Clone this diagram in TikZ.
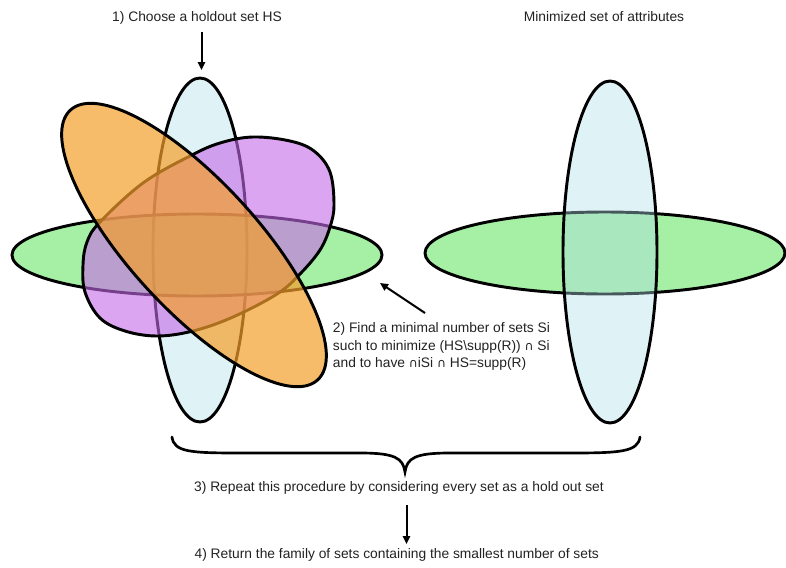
\documentclass[tikz,border=0pt]{standalone}
\usepackage{fontspec}
\setmainfont{Liberation Sans}
\newfontfamily\symbolfont{DejaVu Sans}
\newcommand{\setcap}{{\symbolfont\fontsize{9.2}{13.1}\selectfont ∩}}
\usetikzlibrary{arrows.meta}
\definecolor{setblue}{RGB}{175,222,230}
\definecolor{setgreen}{RGB}{107,230,107}
\definecolor{setpurple}{RGB}{197,105,233}
\definecolor{setorange}{RGB}{244,159,42}
\definecolor{inktext}{RGB}{34,34,34}
\begin{document}
\begin{tikzpicture}[x=0.75pt,y=-0.75pt,
  setedge/.style={draw=black,line width=2.2pt},
  blueset/.style={setedge,fill=setblue,fill opacity=0.4},
  greenset/.style={setedge,fill=setgreen,fill opacity=0.6},
  purpleset/.style={setedge,fill=setpurple,fill opacity=0.6},
  orangeset/.style={setedge,fill=setorange,fill opacity=0.7},
  caption/.style={font=\fontsize{10.35}{13.1}\selectfont,text=inktext,inner sep=0pt},
  flow/.style={draw=black,line width=1.5pt,-{Triangle[length=6pt,width=5.5pt]}},
  bracket/.style={draw=black,line width=2pt,line cap=round}]
\useasboundingbox (0,0) rectangle (786,568);

% ---- four overlapping sets with the holdout set HS ----
\path[blueset] (200,250) ellipse [x radius=47,y radius=172];
\path[greenset] (197,255) ellipse [x radius=185,y radius=41];
\path[purpleset] plot[smooth cycle,tension=0.6] coordinates {
  (143,183) (100,222) (87,242) (83,265) (85,292) (100,318) (125,331)
  (157,336) (193,331) (233,317) (277,294) (300,274) (320,250) (330,227)
  (334,205) (330,172) (314,151) (290,141) (253,137) (220,143) (190,156)};
\path[orangeset,rotate around={-47.5:(194,245)}] (194,245) ellipse [x radius=183,y radius=64];

% ---- minimized family ----
\path[greenset] (605,253) ellipse [x radius=180,y radius=41];
\path[blueset] (610,252) ellipse [x radius=47,y radius=171];

% ---- captions ----
\node[caption,anchor=base] (step1) at (197,21.5) {1) Choose a holdout set HS};
\node[caption,anchor=base] (result) at (604,21) {Minimized set of attributes};
\node[caption,anchor=base west,align=left] (step2) at (332.7,367.7)
  {2) Find a minimal number of sets Si\\
   such to minimize (HS\textbackslash supp(R)) \setcap\ Si\\
   and to have \setcap iSi \setcap\ HS=supp(R)};
\node[caption,anchor=base] (step3) at (399,491.7)
  {3) Repeat this procedure by considering every set as a hold out set};
\node[caption,anchor=base] (step4) at (396.7,558)
  {4) Return the family of sets containing the smallest number of sets};

% ---- arrows ----
\coordinate (hsTail) at (201.5,31.5);
\coordinate (hsHead) at (201.5,70);
\draw[flow] (hsTail) -- (hsHead);
\coordinate (minTail) at (425,313);
\coordinate (minHead) at (380,283);
\draw[flow] (minTail) -- (minHead);
\coordinate (repTail) at (406.5,505);
\coordinate (repHead) at (406.5,544);
\draw[flow] (repTail) -- (repHead);

% ---- brace under both groups ----
\draw[bracket] (172,437) .. controls (174,452) and (190,453) .. (240,453)
  -- (360,453) .. controls (395,453) and (403,458) .. (405,472)
  .. controls (407,458) and (415,453) .. (450,453)
  -- (570,453) .. controls (620,453) and (638,452) .. (640,437);
\end{tikzpicture}
\end{document}
